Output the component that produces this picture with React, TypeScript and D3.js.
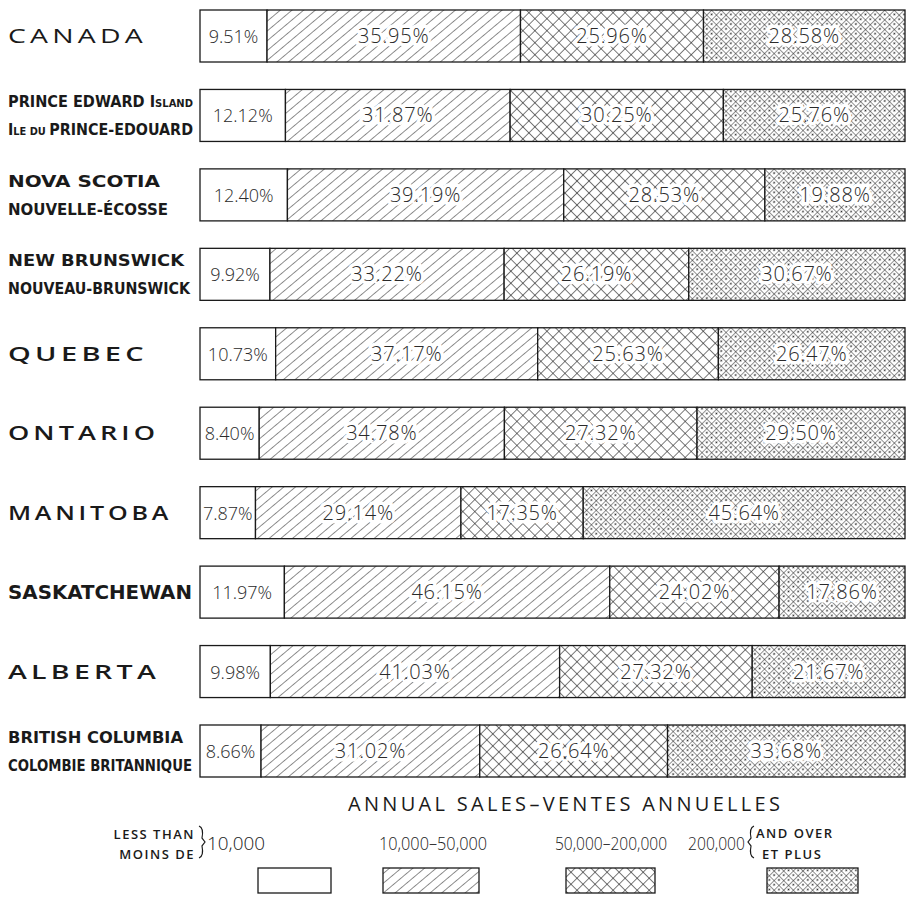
import React from 'react';
import * as d3 from 'd3';

// provinces, top to bottom
const regions = [
  'CANADA',
  'PEI',
  'NS',
  'NB',
  'QUEBEC',
  'ONTARIO',
  'MANITOBA',
  'SASKATCHEWAN',
  'ALBERTA',
  'BC',
];

// share of stores by annual sales class (%)
const lessThan10k = [9.51, 12.12, 12.4, 9.92, 10.73, 8.4, 7.87, 11.97, 9.98, 8.66];
const from10kTo50k = [35.95, 31.87, 39.19, 33.22, 37.17, 34.78, 29.14, 46.15, 41.03, 31.02];
const from50kTo200k = [25.96, 30.25, 28.53, 26.19, 25.63, 27.32, 17.35, 24.02, 27.32, 26.64];
const over200k = [28.58, 25.76, 19.88, 30.67, 26.47, 29.5, 45.64, 17.86, 21.67, 33.68];

const series = [lessThan10k, from10kTo50k, from50kTo200k, over200k];
const fills = ['#fff', 'url(#hatch)', 'url(#cross)', 'url(#dotcross)'];

// row labels; small = small-caps part
type Piece = {t: string; small?: boolean};
const rowLabels: {lines: Piece[][]; spaced: boolean; bold: boolean; w: number[]}[] = [
  {lines: [[{t: 'CANADA'}]], spaced: true, bold: false, w: [139]},
  {
    lines: [
      [{t: 'PRINCE EDWARD I'}, {t: 'SLAND', small: true}],
      [{t: 'I'}, {t: 'LE DU ', small: true}, {t: 'PRINCE-EDOUARD'}],
    ],
    spaced: false,
    bold: true,
    w: [185, 185],
  },
  {lines: [[{t: 'NOVA SCOTIA'}], [{t: 'NOUVELLE-ÉCOSSE'}]], spaced: false, bold: true, w: [152, 160]},
  {lines: [[{t: 'NEW BRUNSWICK'}], [{t: 'NOUVEAU-BRUNSWICK'}]], spaced: false, bold: true, w: [176, 182]},
  {lines: [[{t: 'QUEBEC'}]], spaced: true, bold: true, w: [140]},
  {lines: [[{t: 'ONTARIO'}]], spaced: true, bold: true, w: [151]},
  {lines: [[{t: 'MANITOBA'}]], spaced: true, bold: true, w: [164]},
  {lines: [[{t: 'SASKATCHEWAN'}]], spaced: false, bold: true, w: [184]},
  {lines: [[{t: 'ALBERTA'}]], spaced: true, bold: true, w: [152]},
  {lines: [[{t: 'BRITISH COLUMBIA'}], [{t: 'COLOMBIE BRITANNIQUE'}]], spaced: false, bold: true, w: [175, 184]},
];

const legendRanges = ['10,000', '10,000–50,000', '50,000–200,000', '200,000'];

const W = 924;
const H = 899;
const ink = '#1a1a1a';
const condFont = "'DejaVu Sans Condensed', 'DejaVu Sans', sans-serif";
const wideFont = "'Open Sans', 'DejaVu Sans', sans-serif";
const valueFont = "'Open Sans', 'DejaVu Sans', sans-serif";

export default function App() {
  const x = d3.scaleLinear().domain([0, 100]).range([200, 905]);
  const y = d3.scaleBand<string>().domain(regions).range([10, 777]).paddingInner(0.3454).paddingOuter(0);
  const stack = regions.map((_, i) => {
    let acc = 0;
    return series.map((s) => {
      const v = s[i];
      const seg = {x0: acc, x1: acc + v, v};
      acc += v;
      return seg;
    });
  });

  const legendBoxes = [
    [258, 331],
    [383, 479],
    [566, 655],
    [767, 858],
  ];

  return (
    <svg width={W} height={H} style={{display: 'block', position: 'absolute', left: 0, top: 0, background: '#fff'}}>
      <defs>
        <pattern id="hatch" width={7.5} height={8} patternUnits="userSpaceOnUse" patternTransform="rotate(50)">
          <rect width={7.5} height={8} fill="#fff" />
          <line x1={0} y1={0} x2={0} y2={8} stroke="#333" strokeWidth={1.1} />
        </pattern>
        <pattern id="cross" width={8.5} height={8.5} patternUnits="userSpaceOnUse" patternTransform="rotate(45)">
          <rect width={8.5} height={8.5} fill="#fff" />
          <line x1={0} y1={0} x2={0} y2={8.5} stroke="#222" strokeWidth={1.2} />
          <line x1={0} y1={0} x2={8.5} y2={0} stroke="#222" strokeWidth={1.2} />
        </pattern>
        <pattern id="dotcross" width={6.8} height={6.8} patternUnits="userSpaceOnUse" patternTransform="rotate(45)">
          <rect width={6.8} height={6.8} fill="#fff" />
          <line x1={0} y1={0} x2={0} y2={6.8} stroke="#222" strokeWidth={1} />
          <line x1={0} y1={0} x2={6.8} y2={0} stroke="#222" strokeWidth={1} />
          <circle cx={3.4} cy={3.4} r={0.9} fill="#222" />
        </pattern>
      </defs>

      {regions.map((r, i) => {
        const top = y(r)!;
        const bh = y.bandwidth();
        const lab = rowLabels[i];
        const cy = top + bh / 2;
        const single = lab.lines.length === 1;
        const lineYs = single ? [cy + 7] : [cy - 8, cy + 20];
        return (
          <g key={r}>
            {lab.lines.map((pieces, li) => (
              <text
                key={li}
                x={8}
                y={lineYs[li]}
                fontFamily={lab.spaced ? wideFont : condFont}
                fontWeight={lab.spaced ? (lab.bold ? 600 : 400) : 'bold'}
                fontSize={lab.spaced ? 20 : single ? 19 : 16}
                letterSpacing={lab.spaced ? 3 : 0}
                fill={ink}
                textLength={lab.w[li]}
                lengthAdjust="spacingAndGlyphs"
              >
                {pieces.map((p, pi) => (
                  <tspan key={pi} fontSize={p.small ? 11 : undefined}>
                    {p.t}
                  </tspan>
                ))}
              </text>
            ))}
            {stack[i].map((s, j) => (
              <rect
                key={j}
                x={x(s.x0)}
                y={top}
                width={x(s.x1) - x(s.x0)}
                height={bh}
                fill={fills[j]}
                stroke={ink}
                strokeWidth={1.3}
              />
            ))}
            {stack[i].map((s, j) => (
              <text
                key={'t' + j}
                x={(x(s.x0) + x(s.x1)) / 2}
                y={cy + 7}
                textAnchor="middle"
                fontFamily={valueFont}
                fontWeight={300}
                fontSize={j === 0 ? 18 : 20}
                letterSpacing={j === 0 ? 0 : 0.8}
                fill="#2a2a2a"
                stroke="#fff"
                strokeWidth={j === 0 ? 0 : 7}
                strokeLinejoin="round"
                paintOrder="stroke"
              >
                {s.v.toFixed(2) + '%'}
              </text>
            ))}
          </g>
        );
      })}

      {/* legend */}
      <text
        x={564}
        y={811}
        textAnchor="middle"
        fontFamily={valueFont}
        fontSize={20}
        fill={ink}
        textLength={432}
        lengthAdjust="spacing"
      >
        ANNUAL SALES–VENTES ANNUELLES
      </text>
      <g fontFamily={wideFont} fill={ink} fontWeight={600}>
        <text x={195} y={839} textAnchor="end" fontSize={13} letterSpacing={1.5}>LESS THAN</text>
        <text x={195} y={859} textAnchor="end" fontSize={13} letterSpacing={1.5}>MOINS DE</text>
        <text x={756} y={838} fontSize={13} letterSpacing={1.5}>AND OVER</text>
        <text x={762} y={859} fontSize={13} letterSpacing={1.5}>ET PLUS</text>
      </g>
      <path d="M199,826 Q204,828 202,838 L205,842 L202,846 Q204,856 199,858" fill="none" stroke={ink} strokeWidth={1.2} />
      <path d="M754,826 Q749,828 751,838 L748,842 L751,846 Q749,856 754,858" fill="none" stroke={ink} strokeWidth={1.2} />
      {[207, 379, 555, 688].map((lx, k) => (
        <text
          key={k}
          x={lx}
          y={850}
          fontFamily={valueFont}
          fontWeight={300}
          fontSize={19}
          fill={ink}
          textLength={[58, 108, 112, 57][k]}
          lengthAdjust="spacingAndGlyphs"
        >
          {legendRanges[k]}
        </text>
      ))}
      {legendBoxes.map(([a, b], k) => (
        <rect key={k} x={a} y={868} width={b - a} height={25} fill={fills[k]} stroke={ink} strokeWidth={1.3} />
      ))}
    </svg>
  );
}
